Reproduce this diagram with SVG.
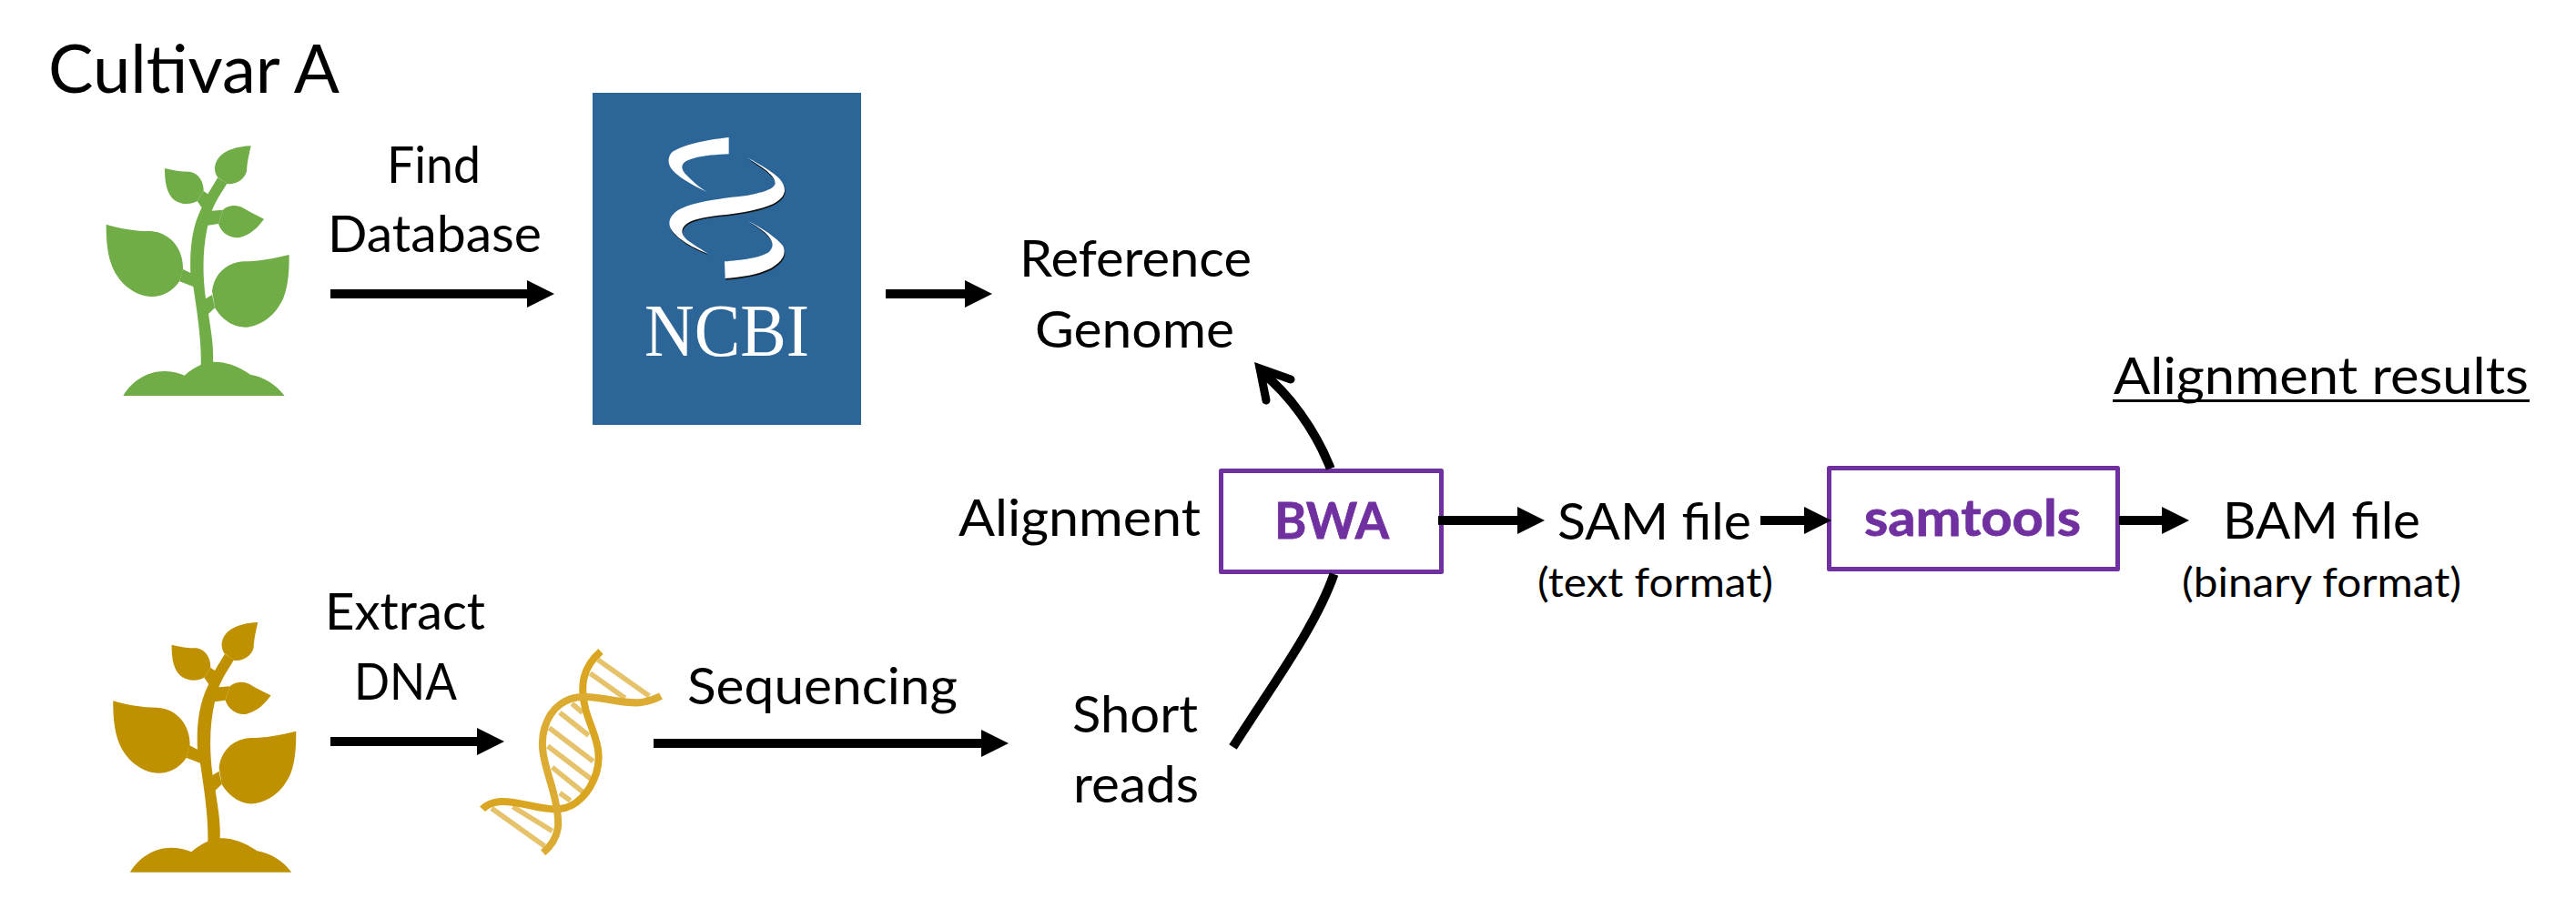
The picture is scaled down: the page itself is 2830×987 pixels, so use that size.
<svg xmlns="http://www.w3.org/2000/svg" xmlns:xlink="http://www.w3.org/1999/xlink" width="2830" height="987" viewBox="0 0 2830 987">
<style>
text{font-family:Lato,"Liberation Sans",sans-serif;fill:#000;font-size:56px}
.big{font-size:74px}
.small{font-size:44px}
.tool{font-weight:700;fill:#7030A0;stroke:#7030A0;stroke-width:.8}
.box{fill:none;stroke:#7030A0;stroke-width:5;stroke-linejoin:round}
.arrow{stroke:#000;stroke-width:10;fill:none;marker-end:url(#ah)}
.curve{stroke:#000;stroke-width:10;fill:none}
.strand{fill:none;stroke-width:24}
.rung{stroke:#E6C36A;stroke-width:17}
</style>
<defs>
<marker id="ah" markerUnits="userSpaceOnUse" markerWidth="30" markerHeight="30" viewBox="0 0 30 30" refX="1" refY="15" orient="auto"><path d="M0 0L30 15L0 30Z" fill="#000"/></marker>
<g id="plant">
<path d="M166 915C195 865 250 832 305 834C330 835 352 841 368 848C385 833 403 821 422 813L462 803C510 802 550 820 585 845C630 852 670 878 698 915Z"/>
<path d="M422 815C425 740 410 640 397 555L352 538L362 497L388 510C385 430 392 360 425 295L410 273L431 240L445 250L478 195L508 215C490 245 472 270 458 305L495 302L480 348L445 353C430 420 425 500 438 595L459 582L468 625L447 645C455 700 465 750 462 805Z"/>
<path d="M110 350C160 365 205 372 255 372C320 375 365 430 363 497L352 537C325 575 290 590 255 588C200 585 150 540 130 490C112 445 110 395 110 350Z"/>
<path d="M713 450C660 463 610 472 565 472C505 475 465 515 459 570L468 625C495 670 535 690 570 689C620 685 670 650 695 590C712 545 713 495 713 450Z"/>
<path d="M587 91C545 92 505 105 485 125C465 148 463 170 476 193L508 216C535 220 565 205 573 175C575 140 582 115 587 91Z"/>
<path d="M303 165C330 172 355 176 385 176C415 180 432 210 431 240L410 273C385 288 345 285 325 260C305 235 303 195 303 165Z"/>
<path d="M630 332C610 322 585 310 565 298C540 282 510 287 495 302L480 348C490 380 520 397 550 393C585 385 610 360 630 332Z"/>
</g>
<path id="swoosh2" d="M543 250C590 275 630 300 650 320C675 350 670 375 640 395C610 415 550 428 480 437C420 442 365 450 340 470C318 490 330 510 350 525C370 540 395 555 415 567C370 550 325 525 300 497C275 470 285 440 320 420C370 395 450 385 540 375C590 365 630 355 635 335C635 305 580 275 543 250Z"/>
<path id="swoosh3" d="M545 458C590 480 640 515 660 540C675 570 655 595 620 615C580 635 520 645 470 648L468 592C520 588 590 580 615 560C635 540 625 520 605 500C585 482 565 470 545 458Z"/>
</defs>
<rect width="2830" height="987" fill="#fff"/>
<g id="title"><text class="big" x="53" y="102" textLength="320" lengthAdjust="spacingAndGlyphs">Cultivar A</text></g>
<g id="plant-green"><use xlink:href="#plant" href="#plant" fill="#70AD47" transform="translate(80,130) scale(.33333)"/></g>
<g id="find-database"><text x="425" y="201" textLength="103" lengthAdjust="spacingAndGlyphs">Find</text><text x="360" y="277" textLength="235" lengthAdjust="spacingAndGlyphs">Database</text></g>
<g id="ncbi">
<rect x="651" y="102" width="295" height="365" fill="#2C6699"/>
<g transform="translate(640,90) scale(.33333)">
<use xlink:href="#swoosh2" href="#swoosh2" fill="#111" transform="translate(2,5)"/>
<use xlink:href="#swoosh3" href="#swoosh3" fill="#111" transform="translate(2,5)"/>
<path fill="#fff" d="M482 183L482 238C430 240 370 245 340 262C322 275 325 290 345 310C365 330 385 348 410 363C370 345 325 320 300 295C280 275 278 250 295 232C330 205 420 190 482 183Z"/>
<use xlink:href="#swoosh2" href="#swoosh2" fill="#fff"/>
<use xlink:href="#swoosh3" href="#swoosh3" fill="#fff"/>
</g>
<text x="708" y="391" style="font-family:'Liberation Serif',serif;font-size:83px;fill:#fff" textLength="181" lengthAdjust="spacingAndGlyphs">NCBI</text>
</g>
<g id="reference-genome"><text x="1120" y="304" textLength="255" lengthAdjust="spacingAndGlyphs">Reference</text><text x="1137" y="382" textLength="219" lengthAdjust="spacingAndGlyphs">Genome</text></g>
<g id="alignment-label"><text x="1053" y="589" textLength="266" lengthAdjust="spacingAndGlyphs">Alignment</text></g>
<g id="bwa"><rect class="box" x="1341.5" y="517.5" width="242" height="111"/><text class="tool" x="1400" y="592" textLength="126" lengthAdjust="spacingAndGlyphs">BWA</text></g>
<g id="sam-file"><text x="1711" y="593" textLength="213" lengthAdjust="spacingAndGlyphs">SAM file</text><text class="small" x="1689" y="656" textLength="259" lengthAdjust="spacingAndGlyphs">(text format)</text></g>
<g id="samtools"><rect class="box" x="2009.5" y="514.5" width="317" height="111"/><text class="tool" x="2048" y="589" textLength="238" lengthAdjust="spacingAndGlyphs">samtools</text></g>
<g id="bam-file"><text x="2442" y="592" textLength="217" lengthAdjust="spacingAndGlyphs">BAM file</text><text class="small" x="2397" y="656" textLength="307" lengthAdjust="spacingAndGlyphs">(binary format)</text></g>
<g id="alignment-results"><text x="2322" y="433" textLength="456" lengthAdjust="spacingAndGlyphs">Alignment results</text><rect x="2321" y="439" width="458" height="3" fill="#000"/></g>
<g id="plant-gold"><use xlink:href="#plant" href="#plant" fill="#BF9000" transform="translate(87.6,653.7) scale(.33333)"/></g>
<g id="extract-dna"><text x="357" y="692" textLength="176" lengthAdjust="spacingAndGlyphs">Extract</text><text x="389" y="769" textLength="113" lengthAdjust="spacingAndGlyphs">DNA</text></g>
<g id="dna" transform="translate(500,680) scale(.33333)">
<g class="rung"><line x1="470" y1="135" x2="640" y2="255"/><line x1="445" y1="180" x2="560" y2="262"/><line x1="385" y1="280" x2="420" y2="310"/><line x1="345" y1="310" x2="440" y2="385"/><line x1="310" y1="360" x2="455" y2="470"/><line x1="305" y1="420" x2="450" y2="530"/><line x1="320" y1="490" x2="425" y2="575"/><line x1="345" y1="575" x2="380" y2="600"/><line x1="190" y1="620" x2="320" y2="700"/><line x1="120" y1="625" x2="295" y2="750"/></g>
<path class="strand" stroke="#DAA520" d="M480 108C420 160 410 220 430 300C450 370 490 430 465 510C445 570 400 625 340 628C280 632 210 600 150 603C125 605 105 612 90 628"/>
<path class="strand" stroke="#DCAB32" d="M290 772C350 720 345 670 330 600C315 520 270 440 295 360C315 290 370 255 430 258C500 260 570 285 620 275C645 270 665 262 678 255"/>
</g>
<g id="sequencing-label"><text x="755" y="774" textLength="297" lengthAdjust="spacingAndGlyphs">Sequencing</text></g>
<g id="short-reads"><text x="1178" y="805" textLength="138" lengthAdjust="spacingAndGlyphs">Short</text><text x="1179" y="882" textLength="138" lengthAdjust="spacingAndGlyphs">reads</text></g>
<g id="connectors">
<line class="arrow" x1="363" y1="323" x2="580" y2="323"/>
<line class="arrow" x1="973" y1="323" x2="1061" y2="323"/>
<line class="arrow" x1="363" y1="815" x2="525" y2="815"/>
<line class="arrow" x1="718" y1="817" x2="1079" y2="817"/>
<line class="arrow" x1="1580" y1="572" x2="1668" y2="572"/>
<line class="arrow" x1="1934" y1="572" x2="1983" y2="572"/>
<line class="arrow" x1="2328" y1="572" x2="2376" y2="572"/>
<path class="curve" d="M1354.5 821C1395 757 1445 690 1465.5 631"/>
<path class="curve" d="M1461.7 515C1445 472 1415 432 1387 410"/>
<path d="M1418 417L1384 405L1391 440" fill="none" stroke="#000" stroke-width="9" stroke-linecap="round"/>
</g>
</svg>
